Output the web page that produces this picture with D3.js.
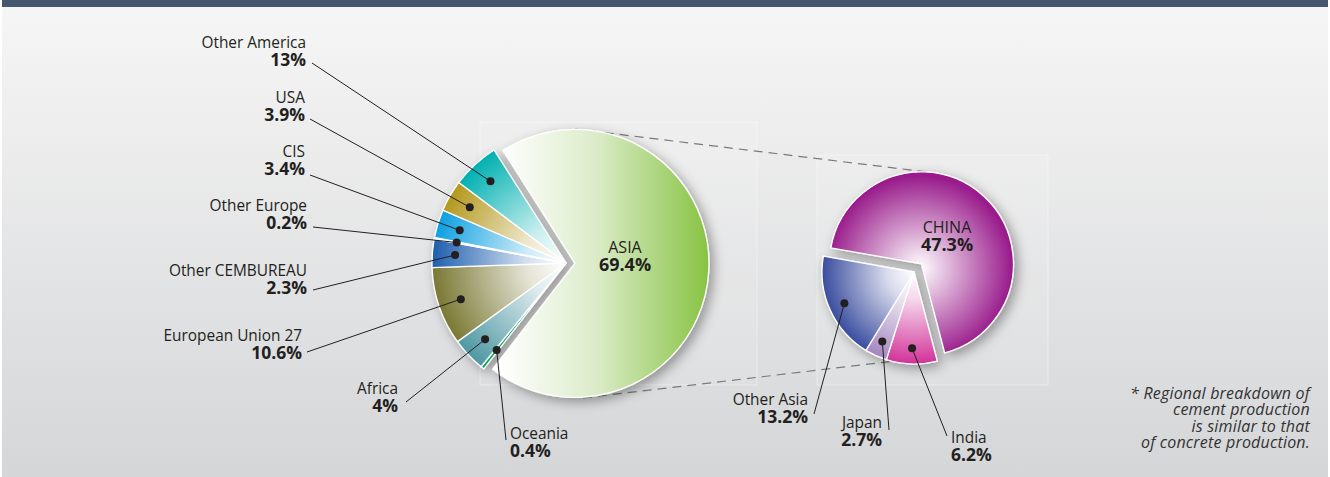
<!DOCTYPE html>
<html>
<head>
<meta charset="utf-8">
<script src="https://cdn.jsdelivr.net/npm/d3@7"></script>
<style>
  body { margin: 0; background: #fff; }
  svg { display: block; }
  text { font-family: "Open Sans", "Noto Sans", sans-serif; fill: #231f20; }
</style>
</head>
<body>
<div id="container"></div>
<script>
/* DATA */
// world production by region, clockwise starting with ASIA
const regions = ["ASIA", "Oceania", "Africa", "European Union 27", "Other CEMBUREAU", "Other Europe", "CIS", "USA", "Other America"];
const regionShares = [69.4, 0.4, 4.1, 9.4, 3.4, 0.2, 3.4, 3.8, 5.7]; // slice sizes as drawn
const regionLabels = ["69.4%", "0.4%", "4%", "10.6%", "2.3%", "0.2%", "3.4%", "3.9%", "13%"];
const regionColors = ["#86c240", "#00a651", "#4e98a3", "#7a7833", "#1d5eae", "#eef3fa", "#0c9fe0", "#b3981c", "#00b0b1"];

// breakdown of ASIA, clockwise starting with CHINA
const asiaParts = ["CHINA", "India", "Japan", "Other Asia"];
const asiaShares = [47.3, 6.2, 2.7, 13.2];
const asiaLabels = ["47.3%", "6.2%", "2.7%", "13.2%"];
const asiaColors = ["#9a1d8c", "#d2339a", "#a386bf", "#3a4d9f"];

const noteLines = ["* Regional breakdown of", "cement production", "is similar to that", "of concrete production."];

/* LAYOUT */
const width = 1330, height = 477;
const left = { cx: 566, cy: 263, r: 134, explode: 9, start: -32.5 };
const right = { cx: 914, cy: 272, r: 92, explode: 11, start: -80 };

// label anchors (name baseline) and start of the leader line
const labelSpots = {
  "Other America":     { x: 306, y: 48,  anchor: "end",   lx: 312, ly: 63 },
  "USA":               { x: 305, y: 103, anchor: "end",   lx: 310, ly: 119 },
  "CIS":               { x: 305, y: 157, anchor: "end",   lx: 310, ly: 175 },
  "Other Europe":      { x: 307, y: 211, anchor: "end",   lx: 313, ly: 227 },
  "Other CEMBUREAU":   { x: 307, y: 276, anchor: "end",   lx: 313, ly: 290 },
  "European Union 27": { x: 302, y: 341, anchor: "end",   lx: 307, ly: 352 },
  "Africa":            { x: 398, y: 394, anchor: "end",   lx: 406, ly: 402 },
  "Oceania":           { x: 510, y: 439, anchor: "start", lx: 506, ly: 440 },
  "Other Asia":        { x: 808, y: 405, anchor: "end",   lx: 814, ly: 414 },
  "Japan":             { x: 882, y: 428, anchor: "end",   lx: 889, ly: 430 },
  "India":             { x: 951, y: 443, anchor: "start", lx: 947, ly: 436 },
  "ASIA":              { x: 625, y: 253, anchor: "middle" },
  "CHINA":             { x: 947, y: 233, anchor: "middle" }
};

const svg = d3.select("#container")
  .append("svg")
  .attr("width", width)
  .attr("height", height);

const defs = svg.append("defs");

// background
const bg = defs.append("linearGradient").attr("id", "bg")
  .attr("x1", 0).attr("y1", 0).attr("x2", 0).attr("y2", 1);
bg.append("stop").attr("offset", 0).attr("stop-color", "#f6f6f6");
bg.append("stop").attr("offset", 1).attr("stop-color", "#d5d6d8");

svg.append("rect").attr("x", 2).attr("y", 0).attr("width", width - 4).attr("height", height)
  .attr("fill", "url(#bg)");
svg.append("rect").attr("x", 2).attr("y", 0).attr("width", width - 4).attr("height", 7)
  .attr("fill", "#44576e");

// faint panels behind the pies
svg.append("rect").attr("x", 480).attr("y", 122).attr("width", 277).attr("height", 263)
  .attr("fill", "#fff").attr("fill-opacity", 0.1).attr("stroke", "#fff").attr("stroke-opacity", 0.4);
svg.append("rect").attr("x", 817).attr("y", 155).attr("width", 231).attr("height", 230)
  .attr("fill", "#fff").attr("fill-opacity", 0.1).attr("stroke", "#fff").attr("stroke-opacity", 0.4);

// shadow
const shadow = defs.append("filter").attr("id", "shadow")
  .attr("x", "-20%").attr("y", "-20%").attr("width", "140%").attr("height", "140%");
shadow.append("feDropShadow").attr("dx", 4).attr("dy", 4).attr("stdDeviation", 6)
  .attr("flood-color", "#000").attr("flood-opacity", 0.35);

const rad = d => d * Math.PI / 180;

// radial gradient in the slice's own (translated) coordinates
function radial(id, cx, cy, r, color, mid) {
  const g = defs.append("radialGradient").attr("id", id)
    .attr("gradientUnits", "userSpaceOnUse")
    .attr("cx", cx).attr("cy", cy).attr("r", r);
  g.append("stop").attr("offset", 0).attr("stop-color", "#fff");
  g.append("stop").attr("offset", mid).attr("stop-color", d3.interpolateRgb("#fff", color)(0.2));
  g.append("stop").attr("offset", 1).attr("stop-color", color);
}

// dashed connectors between the pies
svg.append("line").attr("x1", 575).attr("y1", 129).attr("x2", 927).attr("y2", 172)
  .attr("stroke", "#7a7a7a").attr("stroke-width", 1.2).attr("stroke-dasharray", "9,6");
svg.append("line").attr("x1", 583).attr("y1", 398).attr("x2", 920).attr("y2", 358)
  .attr("stroke", "#7a7a7a").attr("stroke-width", 1.2).attr("stroke-dasharray", "9,6");

/* PIES */
function drawPie(cfg, names, values, colors, fillFor) {
  const pie = d3.pie().sort(null)
    .startAngle(rad(cfg.start)).endAngle(rad(cfg.start) + 2 * Math.PI);
  const arcs = pie(values).map((d, i) => Object.assign(d, { name: names[i], color: colors[i] }));
  const arc = d3.arc().innerRadius(0).outerRadius(cfg.r);
  const dotArc = d3.arc().innerRadius(cfg.r * 0.83).outerRadius(cfg.r * 0.83);

  const off = d => {
    if (d.index !== 0) return [0, 0];
    const m = (d.startAngle + d.endAngle) / 2;
    return [Math.sin(m) * cfg.explode, -Math.cos(m) * cfg.explode];
  };

  const g = svg.append("g").attr("filter", "url(#shadow)");
  g.selectAll("path")
    .data(arcs)
    .join("path")
    .attr("transform", d => { const o = off(d); return `translate(${cfg.cx + o[0]},${cfg.cy + o[1]})`; })
    .attr("d", arc)
    .attr("fill", (d, i) => fillFor(d, i))
    .attr("stroke", "#fff")
    .attr("stroke-width", 1.3)
    .attr("stroke-linejoin", "round");

  arcs.forEach(d => {
    const c = dotArc.centroid(d);
    d.dot = [cfg.cx + c[0], cfg.cy + c[1]];
  });
  return arcs;
}

// left pie gradients
const asiaGrad = defs.append("linearGradient").attr("id", "asia")
  .attr("gradientUnits", "userSpaceOnUse")
  .attr("x1", -75).attr("y1", 0).attr("x2", 136).attr("y2", 0);
asiaGrad.append("stop").attr("offset", 0).attr("stop-color", "#ffffff");
asiaGrad.append("stop").attr("offset", 0.45).attr("stop-color", "#dcecca");
asiaGrad.append("stop").attr("offset", 1).attr("stop-color", regionColors[0]);

regionColors.forEach((c, i) => radial("reg" + i, 0, 0, left.r, c, 0.3));

const leftArcs = drawPie(left, regions, regionShares, regionColors, (d, i) => {
  if (i === 0) return "url(#asia)";
  if (regions[i] === "Oceania") return regionColors[i];
  return `url(#reg${i})`;
});

// right pie gradients
radial("asia0", -2, 4, right.r, asiaColors[0], 0.2);
asiaColors.forEach((c, i) => { if (i > 0) radial("asia" + i, 0, 0, right.r, c, 0.3); });

const rightArcs = drawPie(right, asiaParts, asiaShares, asiaColors, (d, i) => `url(#asia${i})`);

/* LABELS */
function drawLabels(arcs, pcts) {
  arcs.forEach((d, i) => {
    const s = labelSpots[d.name];
    if (s.lx !== undefined) {
      svg.append("line")
        .attr("x1", s.lx).attr("y1", s.ly).attr("x2", d.dot[0]).attr("y2", d.dot[1])
        .attr("stroke", "#231f20").attr("stroke-width", 1);
      svg.append("circle")
        .attr("cx", d.dot[0]).attr("cy", d.dot[1]).attr("r", 4)
        .attr("fill", "#231f20");
    }
    const big = s.anchor === "middle";
    const t = svg.append("text")
      .attr("x", s.x).attr("y", s.y)
      .attr("text-anchor", s.anchor)
      .style("font-size", big ? "16px" : "15.4px");
    t.append("tspan").attr("x", s.x).text(d.name);
    t.append("tspan").attr("x", s.x).attr("dy", 18)
      .style("font-weight", "bold").style("font-size", big ? "18px" : "17.5px").text(pcts[i]);
  });
}
drawLabels(leftArcs, regionLabels);
drawLabels(rightArcs, asiaLabels);

// note
svg.append("text")
  .attr("x", 1310).attr("y", 399)
  .attr("text-anchor", "end")
  .style("font-size", "16px").style("font-style", "italic")
  .style("letter-spacing", "0.2px")
  .style("fill", "#333")
  .selectAll("tspan")
  .data(noteLines)
  .join("tspan")
  .attr("x", 1310)
  .attr("dy", (d, i) => i === 0 ? 0 : 16.3)
  .text(d => d);
</script>
</body>
</html>
